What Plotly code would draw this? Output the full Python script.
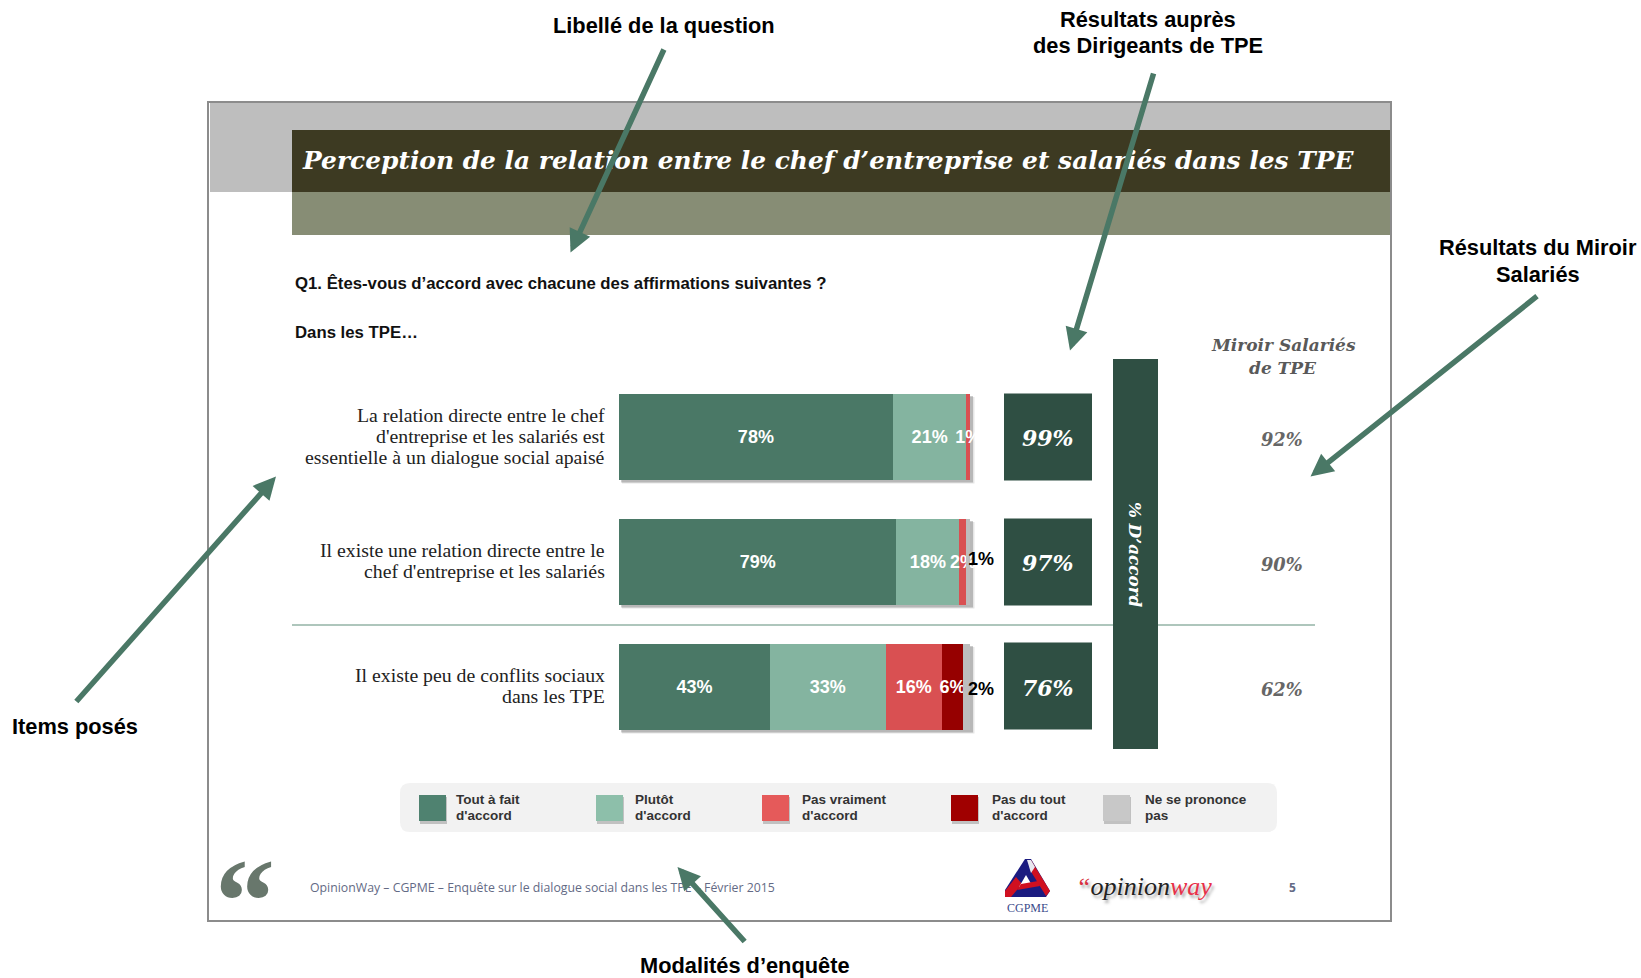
import plotly.graph_objects as go

W, H = 1641, 978

# ---------- data ----------
rows = ["relation essentielle", "relation directe", "peu de conflits"]
item_lines = [
    ["La relation directe entre le chef", "d'entreprise et les salariés est", "essentielle à un dialogue social apaisé"],
    ["Il existe une relation directe entre le", "chef d'entreprise et les salariés"],
    ["Il existe peu de conflits sociaux", "dans les TPE"],
]
tout_a_fait = [78, 79, 43]
plutot = [21, 18, 33]
pas_vraiment = [1, 2, 16]
pas_du_tout = [0, 0, 6]
nsp = [0, 1, 2]
total_accord = [99, 97, 76]
miroir = [92, 90, 62]
series_names = [["Tout à fait", "d'accord"], ["Plutôt", "d'accord"], ["Pas vraiment", "d'accord"],
                ["Pas du tout", "d'accord"], ["Ne se prononce", "pas"]]
bar_colors = ["#4A7866", "#84B4A0", "#D95052", "#960000", "#BDBDBD"]
swatch_colors = ["#4F8270", "#8DBFAA", "#E55A5A", "#A00000", "#C8C8C8"]

SANS = "Liberation Sans"
SERIF = "Liberation Serif"
DISPLAY = "DejaVu Serif"
GREEN = "#4A7866"
DARK = "#2F4F43"


def px(x):
    return x / W


def py(y):
    return 1 - y / H


shapes, notes = [], []


def rect(x0, y0, x1, y1, fill, line=None, lw=0, opacity=1, layer="below"):
    shapes.append(dict(type="rect", xref="paper", yref="paper", x0=px(x0), x1=px(x1), y0=py(y0), y1=py(y1),
                       fillcolor=fill, opacity=opacity, layer=layer,
                       line=dict(color=line or fill, width=lw)))


def seg(x0, y0, x1, y1, color, w):
    shapes.append(dict(type="line", xref="paper", yref="paper", x0=px(x0), x1=px(x1), y0=py(y0), y1=py(y1),
                       layer="below", line=dict(color=color, width=w)))


def poly(points, fill):
    d = "M " + " L ".join(f"{px(a)},{py(b)}" for a, b in points) + " Z"
    shapes.append(dict(type="path", xref="paper", yref="paper", path=d, fillcolor=fill, layer="below",
                       line=dict(width=0)))


def text(x, y, s, size, color="#000000", family=SANS, anchor="center", angle=0, **fontkw):
    notes.append(dict(xref="paper", yref="paper", x=px(x), y=py(y), text=s, showarrow=False,
                      xanchor=anchor, yanchor="middle", textangle=angle,
                      font=dict(family=family, size=size, color=color, **fontkw)))


def bold(s):
    return f"<b>{s}</b>"


def bi(s):
    return f"<b><i>{s}</i></b>"


# ---------- slide background ----------
rect(208, 102, 1391, 921, "#FFFFFF", "#8C8C8C", 2)
rect(210, 103, 1390, 130, "#BEBEBE")
rect(210, 103, 292, 192, "#BEBEBE")
rect(292, 130, 1390, 192, "#3D3A22")
rect(292, 192, 1390, 235, "#878D75")
text(300, 160.5, bi("Perception de la relation entre le chef d’entreprise et salariés dans les TPE"),
     24.9, "#FFFFFF", DISPLAY, "left")
text(292.5, 283, bold("Q1. Êtes-vous d’accord avec chacune des affirmations suivantes ?"), 16.75, "#111111", SANS, "left")
text(292.5, 332, bold("Dans les TPE…"), 16.75, "#111111", SANS, "left")

# ---------- separator and side boxes ----------
seg(292, 625, 1315, 625, "#93B3A6", 1.5)
rect(1113, 359, 1158, 749, DARK)
text(1135, 555, bi("% D’accord"), 16.8, "#FFFFFF", DISPLAY, angle=90)
text(1283, 345.5, bi("Miroir Salariés"), 17, "#595959", DISPLAY)
text(1283, 368, bi("de TPE"), 17, "#595959", DISPLAY)

# ---------- bars geometry ----------
X0, X1 = 619, 970
ROW_PITCH, ROW_H = 124.9, 86
Y_TOP = 437 - ROW_PITCH / 2
Y_BOT = Y_TOP + 3 * ROW_PITCH

for row_center, box_top in zip([437, 562, 687], [393.5, 518.5, 642.5]):
    rect(X0 + 3, row_center - ROW_H / 2 + 3, X1 + 4.5, row_center + ROW_H / 2 + 3.5, "#000000", opacity=0.10)
    rect(X0 + 2, row_center - ROW_H / 2 + 2, X1 + 3, row_center + ROW_H / 2 + 2.5, "#000000", opacity=0.20)
    rect(1004, box_top, 1092, box_top + 87, DARK)

for i, r in enumerate(rows):
    n = len(item_lines[i])
    for k, line in enumerate(item_lines[i]):
        notes.append(dict(xref="paper", yref="y", x=px(606.5), y=r, yshift=-(k - (n - 1) / 2) * 21 + 1,
                          text=line, showarrow=False, xanchor="right", yanchor="middle",
                          font=dict(family=SERIF, size=19.8, color="#222222")))
    notes.append(dict(xref="paper", yref="y", x=px(1048), y=r, yshift=-1, text=bi(f"{total_accord[i]}%"),
                      showarrow=False, xanchor="center", yanchor="middle",
                      font=dict(family=DISPLAY, size=22, color="#FFFFFF")))
    notes.append(dict(xref="paper", yref="y", x=px(1282), y=r, yshift=-3, text=bi(f"{miroir[i]}%"),
                      showarrow=False, xanchor="center", yanchor="middle",
                      font=dict(family=DISPLAY, size=17.8, color="#666666")))
    if nsp[i]:
        notes.append(dict(xref="x", yref="y", x=100, y=r, xshift=10.5, yshift=3 if i == 1 else -2,
                          text=bold(f"{nsp[i]}%"), showarrow=False, xanchor="center", yanchor="middle",
                          font=dict(family=SANS, size=18, color="#000000")))

# ---------- legend ----------
lx0, lx1, ly0, ly1, rad = 400, 1277, 783, 832, 10
shapes.append(dict(type="path", xref="paper", yref="paper", layer="below", fillcolor="#F2F2F2", line=dict(width=0),
                   path=(f"M {px(lx0+rad)},{py(ly0)} L {px(lx1-rad)},{py(ly0)} Q {px(lx1)},{py(ly0)} {px(lx1)},{py(ly0+rad)} "
                         f"L {px(lx1)},{py(ly1-rad)} Q {px(lx1)},{py(ly1)} {px(lx1-rad)},{py(ly1)} "
                         f"L {px(lx0+rad)},{py(ly1)} Q {px(lx0)},{py(ly1)} {px(lx0)},{py(ly1-rad)} "
                         f"L {px(lx0)},{py(ly0+rad)} Q {px(lx0)},{py(ly0)} {px(lx0+rad)},{py(ly0)} Z")))
for sx, tx, col, name in zip([419, 596, 762, 951, 1103], [456, 635, 802, 992, 1145], swatch_colors, series_names):
    rect(sx + 1, 797, sx + 28, 824, "#000000", opacity=0.2)
    rect(sx, 795, sx + 27, 821, col)
    text(tx - 2.5, 799.5, bold(name[0]), 13.5, "#333333", SANS, "left")
    text(tx - 2.5, 815.5, bold(name[1]), 13.5, "#333333", SANS, "left")

# ---------- footer ----------
text(213, 901, bold("“"), 120, "#68776C", SERIF, "left")
text(307.5, 887.5, "OpinionWay – CGPME – Enquête sur le dialogue social dans les TPE – Février 2015", 12.3, "#636A85", "Open Sans", "left")
text(1292.5, 887.5, bold("5"), 12, "#636A85", "Open Sans")
# CGPME mark
poly([(1025, 859), (1031, 859), (1050, 891), (1046, 897), (1005, 897), (1005, 890)], "#1B1B80")
poly([(1031, 860), (1050, 891), (1046, 896), (1030, 870)], "#D01020")
poly([(1027, 860), (1031, 860), (1035, 867), (1031, 873)], "#E8E8F0")
poly([(1016, 877), (1022, 884), (1011, 897), (1005, 897), (1005, 891)], "#D01020")
poly([(1026, 875), (1033, 887), (1019, 887)], "#FFFFFF")
poly([(1021, 884), (1038, 881), (1040, 886), (1017, 890)], "#D01020")
text(1027.5, 908, "CGPME", 12, "#3A4A8A", SERIF)
text(1074, 886, '<i><span style="color:#D83040">“</span>opinion<span style="color:#E83048">way</span></i>',
     26, "#222222", SERIF, "left", shadow="2px 3px 3px rgba(0,0,0,0.35)")

# ---------- outer callouts ----------
for x, y, s in [(663.5, 25, "Libellé de la question"), (1148, 19, "Résultats auprès"),
                (1148, 46, "des Dirigeants de TPE"), (1537.5, 247, "Résultats du Miroir"),
                (1537.5, 274, "Salariés"), (74.5, 726, "Items posés"), (745, 965.5, "Modalités d’enquête")]:
    text(x, y, bold(s), 21.8, "#000000")

for sx, sy, tx, ty in [(664.6, 48, 570.5, 252.5), (1154, 72, 1070, 350.5), (1538.5, 295, 1310.5, 476.5),
                       (75, 703, 276, 476.5), (746, 943, 677.5, 867)]:
    notes.append(dict(xref="paper", yref="paper", x=px(tx), y=py(ty), axref="pixel", ayref="pixel",
                      ax=sx - tx, ay=sy - ty, text="", showarrow=True, arrowhead=2, arrowsize=0.82,
                      arrowwidth=5.5, arrowcolor=GREEN, standoff=0, startstandoff=0))

# ---------- figure ----------
fig = go.Figure()
series = [tout_a_fait, plutot, pas_vraiment, pas_du_tout, nsp]
for idx, (vals, color) in enumerate(zip(series, bar_colors)):
    labels = [bold(f"{v}%") if (v and idx < 4) else "" for v in vals]
    fig.add_trace(go.Bar(y=rows, x=vals, orientation="h", marker=dict(color=color, line=dict(width=0)),
                         text=labels, textposition="inside", insidetextanchor="middle", textangle=0,
                         constraintext="none", cliponaxis=False,
                         textfont=dict(family=SANS, size=18, color="#FFFFFF"), hoverinfo="skip",
                         name=" ".join(series_names[idx])))

fig.update_layout(
    width=W, height=H, autosize=False, margin=dict(l=0, r=0, t=0, b=0),
    paper_bgcolor="#FFFFFF", plot_bgcolor="rgba(0,0,0,0)", barmode="stack", bargap=1 - ROW_H / ROW_PITCH,
    showlegend=False, shapes=shapes, annotations=notes,
    xaxis=dict(domain=[px(X0), px(X1)], range=[0, 100], visible=False, fixedrange=True),
    yaxis=dict(domain=[py(Y_BOT), py(Y_TOP)], type="category", categoryorder="array", categoryarray=rows,
               range=[2.5, -0.5], visible=False, fixedrange=True),
)
fig.write_html("out.html", config=dict(displayModeBar=False),
               post_script="document.body.style.margin='0';document.body.style.overflow='hidden';")
